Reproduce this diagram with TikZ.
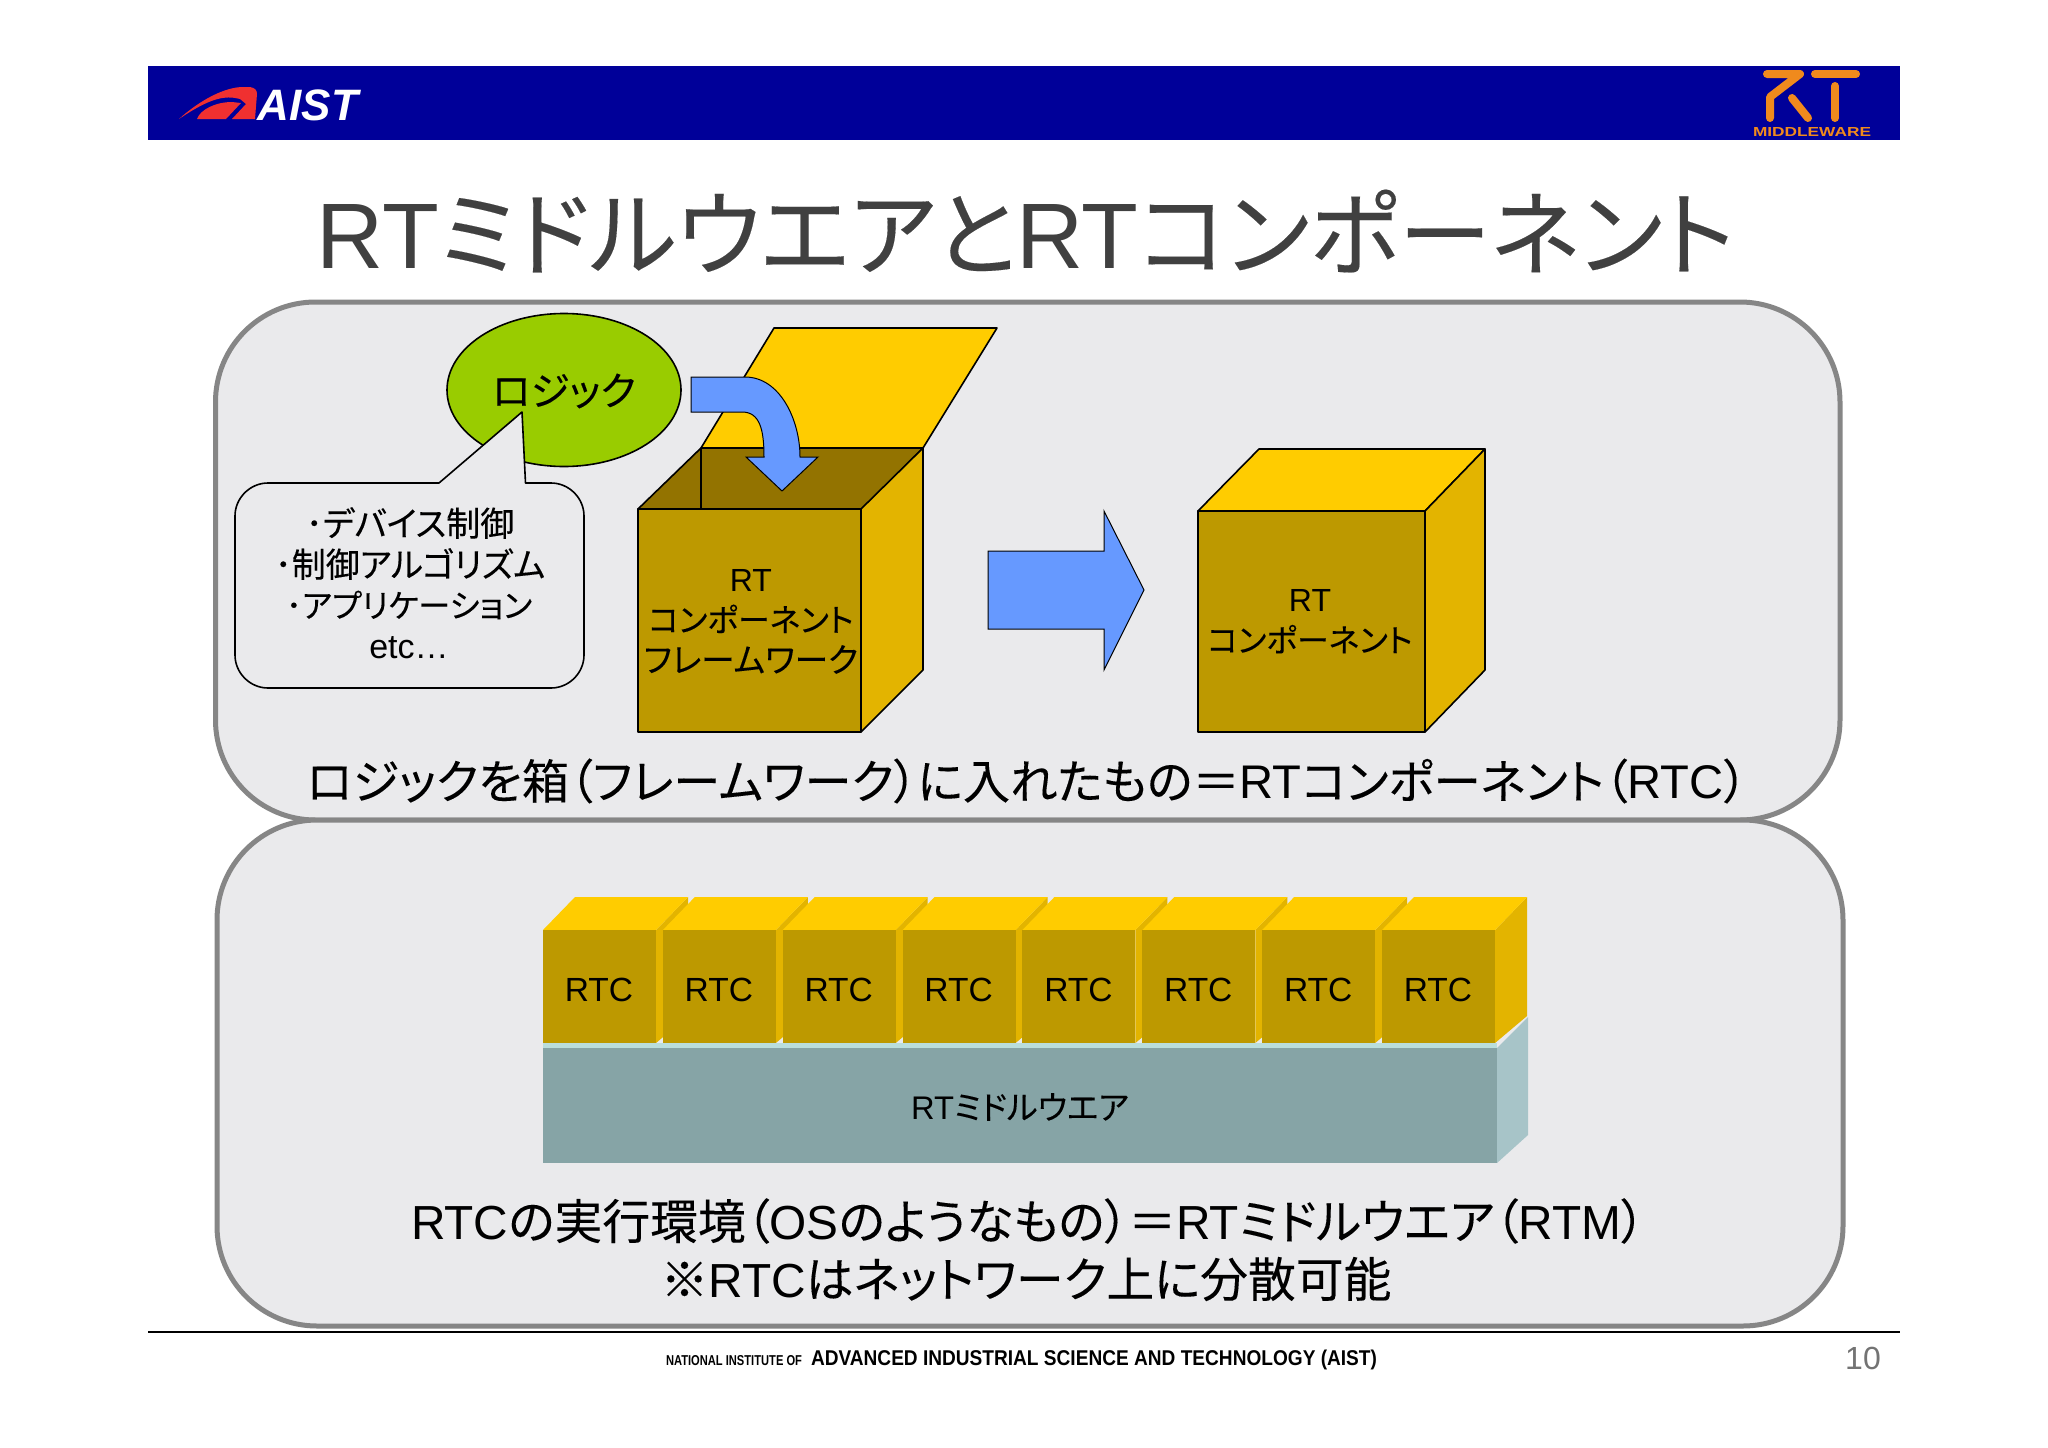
\documentclass[tikz,border=0pt]{standalone}
\usepackage{fontspec}
\setmainfont{Liberation Sans}
\newfontfamily\cjk[RawFeature=+palt,FakeBold=0.15]{Noto Sans CJK JP}
\newcommand{\J}[1]{{\cjk #1}}
\newcommand{\fs}[1]{\fontsize{#1}{#1}\selectfont}
\definecolor{panelfill}{HTML}{EAEAEC}
\definecolor{panelline}{HTML}{868686}
\definecolor{banner}{HTML}{000099}
\definecolor{boxfront}{HTML}{BD9900}
\definecolor{boxside}{HTML}{E3B400}
\definecolor{boxtop}{HTML}{FFCC00}
\definecolor{boxin}{HTML}{937300}
\definecolor{logic}{HTML}{99CC00}
\definecolor{arrowblue}{HTML}{6699FF}
\definecolor{mwfront}{HTML}{86A4A6}
\definecolor{mwside}{HTML}{A7C4C8}
\definecolor{mwtop}{HTML}{BADEDC}
\definecolor{rtorange}{HTML}{F08A1D}
\definecolor{swoosh}{HTML}{F03030}
\tikzset{
  panel/.style={draw=panelline,fill=panelfill,line width=5pt,rounded corners=100pt},
  blk/.style={draw=black,line width=1.6pt,line join=round},
  rtstroke/.style={draw=rtorange,line width=8pt,line cap=round,line join=round},
  txt/.style={inner sep=0pt,outer sep=0pt,text=black,align=center},
}
\begin{document}
\begin{tikzpicture}[x=1pt,y=-1pt]
\useasboundingbox (0,0) rectangle (2048,1448);
\fill[white] (0,0) rectangle (2048,1448);
% banner
\fill[banner] (148,66) rectangle (1900,140);
\fill[swoosh] (179,119) .. controls (200,100) and (225,87) .. (243,87) -- (250,87) .. controls (255,88) and (257,90) .. (257,94)
  -- (255,119) -- (232,119) -- (246,104) -- (240,99) .. controls (225,95) and (210,98) .. (179,119) -- cycle;
\fill[swoosh] (197,119) .. controls (200,110) and (215,102) .. (232,102) -- (241,103) -- (226,119) -- cycle;
\node[txt,text=white,font=\fs{44}\bfseries\itshape,anchor=center] (aist) at (308,105) {AIST};
\draw[rtstroke] (1767,74) -- (1800,74) -- (1770,97) -- (1770,118);
\draw[rtstroke] (1792,98) -- (1808,118);
\draw[rtstroke] (1815,74) -- (1856,74);
\draw[rtstroke] (1835,86) -- (1835,118);
\node[txt,text=rtorange,font=\bfseries] (mw) at (1812,132) {\resizebox{118pt}{9pt}{MIDDLEWARE}};
% title
\node[txt,text=black!75,font=\fs{93}] (title) at (1025.5,231) {RT\J{ミドルウエアと}RT\J{コンポーネント}};
% panels
\draw[panel] (215.5,302) rectangle (1840,820);
\draw[panel] (217,820) rectangle (1843,1326);
% open box
\filldraw[blk,fill=boxtop] (774,328) -- (997,328) -- (923,448) -- (701,448) -- cycle;
\filldraw[blk,fill=boxin] (701,448) -- (923,448) -- (862,509) -- (638,509) -- cycle;
\draw[blk] (701,448) -- (701,509);
\filldraw[blk,fill=boxfront] (638,509) rectangle (861,732);
\filldraw[blk,fill=boxside] (861,509) -- (923,448) -- (923,670) -- (861,732) -- cycle;
\node[txt,font=\fontsize{32}{40.5}\selectfont] (fw) at (751,621.5) {RT\\\J{コンポーネント}\\\scalebox{1.05}{\J{フレームワーク}}};
% logic bubble
\filldraw[blk,fill=logic] (564,390) ellipse [x radius=117,y radius=76.5];
\node[txt,font=\fs{39.5}] (logictxt) at (564,391) {\J{ロジック}};
\filldraw[blk,fill=panelfill] (439,483) -- (522,412) -- (525.5,483) -- (551,483)
  .. controls (569,483) and (584,498) .. (584,516) -- (584,655)
  .. controls (584,673) and (569,688) .. (551,688) -- (268,688)
  .. controls (250,688) and (235,673) .. (235,655) -- (235,516)
  .. controls (235,498) and (250,483) .. (268,483) -- cycle;
\node[txt,font=\fs{34}] (l1) at (410,523) {\J{･デバイス制御}};
\node[txt,font=\fs{34}] (l2) at (410,564) {\J{･制御アルゴリズム}};
\node[txt,font=\fs{34}] (l3) at (409,605) {\scalebox{.95}{\J{･アプリケーション}}};
\node[txt,font=\fs{34}] (l4) at (409,648) {etc…};
% curved arrow
\filldraw[draw=black,line width=1pt,fill=arrowblue] (691,377) -- (745,377)
  .. controls (780,377) and (800,420) .. (800,457) -- (818,457) -- (782,491) -- (746,457) -- (764,457)
  .. controls (764,430) and (760,412) .. (742,412) -- (691,412) -- cycle;
% big arrow
\filldraw[draw=black,line width=1pt,fill=arrowblue] (988,551) -- (1104,551) -- (1104,511) -- (1144,590) -- (1104,670) -- (1104,629) -- (988,629) -- cycle;
% closed box
\filldraw[blk,fill=boxtop] (1198,511) -- (1259,449) -- (1485,449) -- (1425,511) -- cycle;
\filldraw[blk,fill=boxfront] (1198,511) rectangle (1425,732);
\filldraw[blk,fill=boxside] (1425,511) -- (1485,449) -- (1485,670) -- (1425,732) -- cycle;
\node[txt,font=\fontsize{32}{40.5}\selectfont] (rtcbox) at (1310,621.5) {RT\\\J{コンポーネント}};
% caption 1
\node[txt,font=\fs{47.2}] (cap1) at (1027,781) {\J{ロジックを箱（フレームワーク）に入れたもの＝}RT\J{コンポーネント（}RTC\J{）}};
% RTC cubes
\foreach \i in {0,...,7} {
  \pgfmathsetmacro{\xa}{543+119.86*\i}
  \fill[boxside] (\xa+113,930) -- (\xa+145,897) -- (\xa+145,1016) -- (\xa+113,1043) -- cycle;
  \fill[boxtop] (\xa,930) -- (\xa+32,897) -- (\xa+145,897) -- (\xa+113,930) -- cycle;
  \fill[boxfront] (\xa,930) rectangle (\xa+113,1043);
  \node[txt,font=\fs{33.5}] (rtc\i) at (\xa+56,990) {RTC};
}
% middleware
\fill[mwtop] (543,1043) rectangle (1497,1048);
\fill[mwfront] (543,1048) rectangle (1497,1163);
\fill[mwside] (1497,1048) -- (1528,1017) -- (1528,1135) -- (1497,1163) -- cycle;
\node[txt,font=\fs{32.7}] (mwtxt) at (1020,1107) {RT\J{ミドルウエア}};
% caption 2
\node[txt,font=\fs{47.8}] (cap2) at (1028,1221) {RTC\J{の実行環境（}OS\J{のようなもの）＝}RT\J{ミドルウエア（}RTM\J{）}};
\node[txt,font=\fs{47.8}] (cap3) at (1026,1279) {\J{※}RTC\J{はネットワーク上に分散可能}};
% footer
\draw[black,line width=1.5pt] (148,1332) -- (1900,1332);
\node[txt,font=\fs{13}\bfseries,anchor=west] (f1) at (666,1361) {\resizebox{136pt}{10pt}{NATIONAL INSTITUTE OF}};
\node[txt,font=\fs{20}\bfseries,anchor=west] (f2) at (811,1360) {\resizebox{566pt}{15.5pt}{ADVANCED INDUSTRIAL SCIENCE AND TECHNOLOGY (AIST)}};
\node[txt,text=black!55,font=\fs{32}] (page) at (1863,1358) {10};
\end{tikzpicture}
\end{document}
